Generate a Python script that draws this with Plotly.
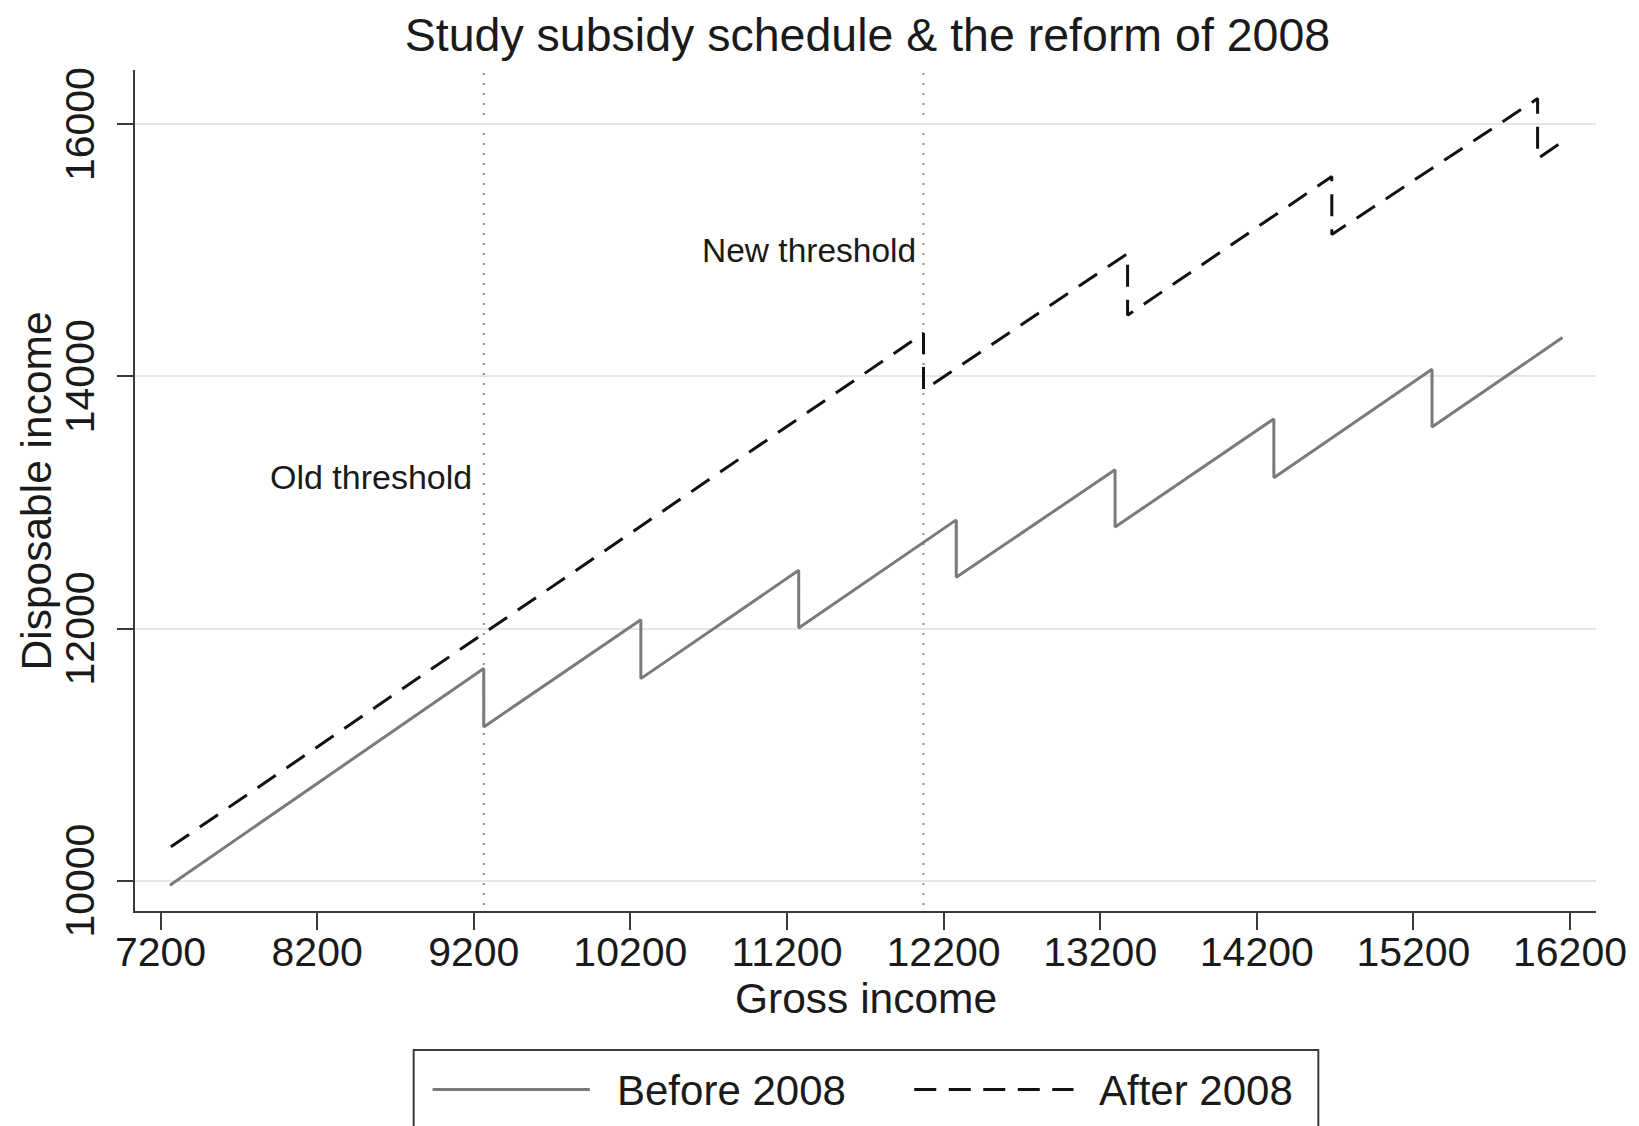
import plotly.graph_objects as go

# ---- data ----
before_x = [7260, 9264, 9264, 10267, 10267, 11275, 11275, 12281, 12281, 13295, 13295,
            14309, 14309, 15319, 15319, 16152]
before_y = [9965, 11683, 11220, 12070, 11603, 12462, 12004, 12862, 12407, 13259, 12805,
            13663, 13196, 14057, 13598, 14308]

after_x = [7266, 12072, 12072, 13375, 13375, 14679, 14679, 15993, 15993, 16150]
after_y = [10269, 14342, 13890, 14974, 14485, 15585, 15125, 16203, 15727, 15859]

old_threshold = 9264
new_threshold = 12072
threshold_labels = ["Old threshold", "New threshold"]
threshold_label_y = [13200, 15000]

x_ticks = [7200, 8200, 9200, 10200, 11200, 12200, 13200, 14200, 15200, 16200]
y_ticks = [10000, 12000, 14000, 16000]

series_names = ["Before 2008", "After 2008"]
title_text = "Study subsidy schedule & the reform of 2008"

# ---- layout geometry (page margin removed, figure at 0,0) ----
W, H = 1639, 1126
PL, PR, PT, PB = 135, 1603, 70, 911   # plot area in pixels
L, R, T, B = PL, W - PR, PT, H - PB
PW, PH = W - L - R, H - T - B
FONT = "Liberation Sans, Arial, Helvetica, sans-serif"
TXT = "#1a1a1a"
AX = "#3a3a3a"


def px(xs):
    return (xs - PL) / PW


def py(ys):
    return (PB - ys) / PH


fig = go.Figure()
fig.add_trace(go.Scatter(x=before_x, y=before_y, mode="lines", name=series_names[0],
                         line=dict(color="#7a7a7a", width=3), showlegend=False))
fig.add_trace(go.Scatter(x=after_x, y=after_y, mode="lines", name=series_names[1],
                         line=dict(color="#111111", width=3, dash="22px,13px"),
                         showlegend=False))

shapes = []
for t in (old_threshold, new_threshold):
    shapes.append(dict(type="line", xref="x", yref="paper", x0=t, x1=t, y0=py(905), y1=py(71),
                       line=dict(color="#8c8c8c", width=2, dash="2px,8px"), layer="below"))

# manual legend box (extends past the bottom edge, as in the reference)
shapes.append(dict(type="rect", xref="paper", yref="paper", x0=px(415), x1=px(1324),
                   y0=py(1145), y1=py(1050), line=dict(color=AX, width=2),
                   fillcolor="rgba(0,0,0,0)"))
shapes.append(dict(type="line", xref="paper", yref="paper", x0=px(434), x1=px(592),
                   y0=py(1089.5), y1=py(1089.5), line=dict(color="#7a7a7a", width=3)))
shapes.append(dict(type="line", xref="paper", yref="paper", x0=px(918), x1=px(1078),
                   y0=py(1089.5), y1=py(1089.5),
                   line=dict(color="#111111", width=3, dash="22px,12.5px")))

annotations = [
    dict(x=old_threshold, y=threshold_label_y[0], xref="x", yref="y", text=threshold_labels[0],
         showarrow=False, xanchor="right", yanchor="middle", xshift=-10,
         font=dict(family=FONT, size=34, color=TXT)),
    dict(x=new_threshold, y=threshold_label_y[1], xref="x", yref="y", text=threshold_labels[1],
         showarrow=False, xanchor="right", yanchor="middle", xshift=-6,
         font=dict(family=FONT, size=33.5, color=TXT)),
    dict(x=px(870), y=py(998), xref="paper", yref="paper", text="Gross income",
         showarrow=False, xanchor="center", yanchor="middle",
         font=dict(family=FONT, size=42.5, color=TXT)),
    dict(x=px(36), y=py(491), xref="paper", yref="paper", text="Disposable income",
         showarrow=False, xanchor="center", yanchor="middle", textangle=-90,
         font=dict(family=FONT, size=42.5, color=TXT)),
    dict(x=px(617), y=py(1090), xref="paper", yref="paper", text=series_names[0],
         showarrow=False, xanchor="left", yanchor="middle",
         font=dict(family=FONT, size=42, color=TXT)),
    dict(x=px(1102), y=py(1090), xref="paper", yref="paper", text=series_names[1],
         showarrow=False, xanchor="left", yanchor="middle",
         font=dict(family=FONT, size=42, color=TXT)),
]

fig.update_layout(
    width=W, height=H, autosize=False,
    margin=dict(l=L, r=R, t=T, b=B, pad=0),
    paper_bgcolor="white", plot_bgcolor="white",
    font=dict(family=FONT, color=TXT),
    title=dict(text=title_text, x=px(871), xref="paper", xanchor="center",
               y=1 - 34.5 / H, yref="container", yanchor="middle",
               font=dict(family=FONT, size=46.5, color=TXT)),
    shapes=shapes,
    annotations=annotations,
    showlegend=False,
    xaxis=dict(range=[7037, 16366], tickmode="array", tickvals=x_ticks,
               ticktext=[str(v) for v in x_ticks],
               showgrid=False, zeroline=False, showline=True, linecolor=AX, linewidth=2,
               ticks="outside", ticklen=17, tickwidth=2, tickcolor=AX,
               ticklabelstandoff=-13,
               tickfont=dict(family=FONT, size=41, color=TXT)),
    yaxis=dict(range=[9760, 16430], tickmode="array", tickvals=y_ticks,
               ticktext=[str(v) for v in y_ticks], tickangle=-90,
               showgrid=True, gridcolor="#e6e6e6", gridwidth=2, zeroline=False,
               showline=True, linecolor=AX, linewidth=2,
               ticks="outside", ticklen=16, tickwidth=2, tickcolor=AX,
               ticklabelstandoff=7, ticklabelshift=6,
               tickfont=dict(family=FONT, size=41, color=TXT)),
)

fig.write_html(
    "out.html",
    config={"responsive": False, "displayModeBar": False},
    post_script="document.body.style.margin='0px';"
                "document.documentElement.style.overflow='hidden';",
)
